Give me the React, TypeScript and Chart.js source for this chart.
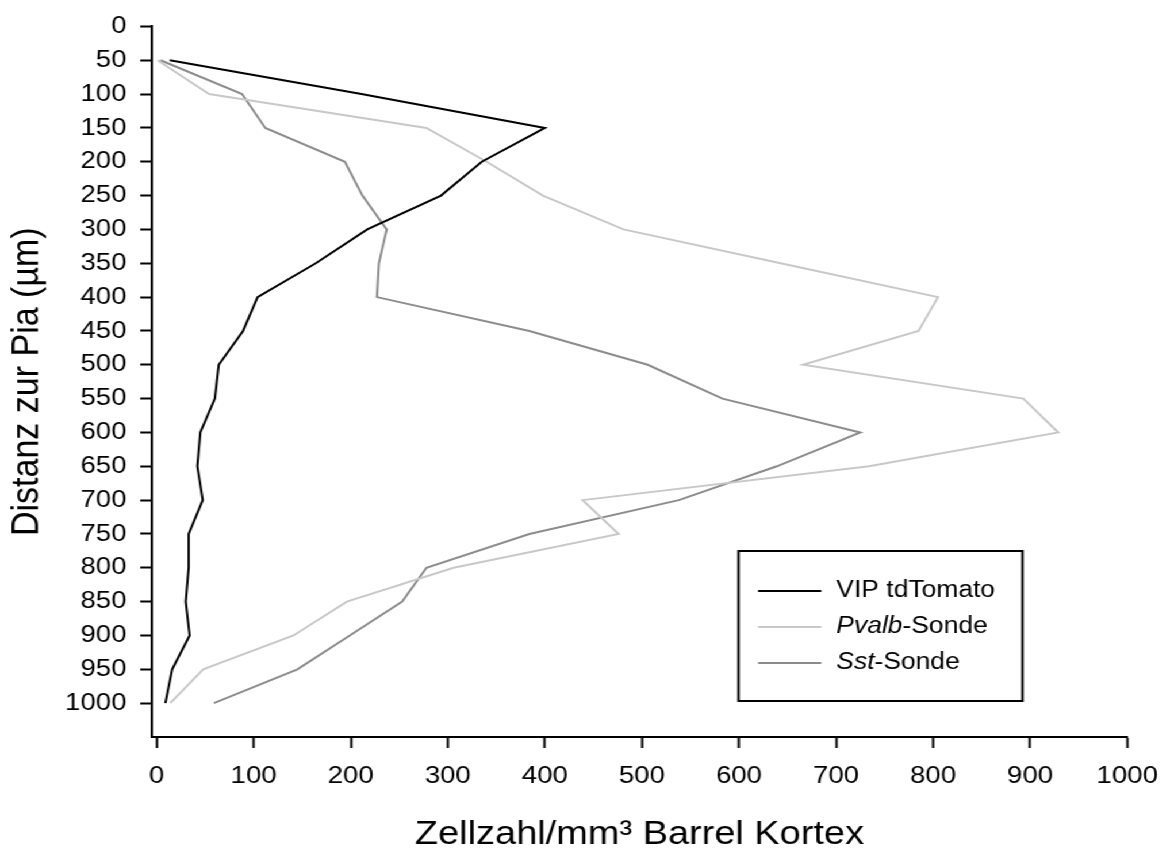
import React, { useEffect, useRef } from 'react';
import { Chart, registerables } from 'chart.js';

Chart.register(...registerables);

// ---- Data ----
const depths = [50, 100, 150, 200, 250, 300, 350, 400, 450, 500, 550, 600, 650, 700, 750, 800, 850, 900, 950, 1000];
const vipValues = [13.5, 211, 400, 335, 293, 217, 164, 104, 89, 64, 60, 45, 42, 47.5, 33, 33, 30, 34, 16, 9];
const pvalbValues = [1, 54, 278, 340, 398, 481, 643, 805, 785, 666, 893, 929, 734, 439, 476, 306, 196, 141, 48, 14];
const sstValues = [4, 88, 112, 194, 212, 237, 229, 227, 384, 506, 583, 725, 639, 538, 384, 278, 253, 199, 145, 59];

const seriesLabels = ['VIP tdTomato', 'Pvalb-Sonde', 'Sst-Sonde'];
const legendItalicPart = ['', 'Pvalb', 'Sst'];
const legendPlainPart = ['VIP tdTomato', '-Sonde', '-Sonde'];
const seriesColors = ['#000000', '#c8c8c8', '#8c8c8c'];

const xTickValues = [0, 100, 200, 300, 400, 500, 600, 700, 800, 900, 1000];
const yTickValues = [0, 50, 100, 150, 200, 250, 300, 350, 400, 450, 500, 550, 600, 650, 700, 750, 800, 850, 900, 950, 1000];

const xTitle = 'Zellzahl/mm³ Barrel Kortex';
const yTitle = 'Distanz zur Pia (µm)';

// ---- Layout ----
const PAGE_W = 1174;
const PAGE_H = 857;
const CANVAS_W = 1021;
const STRETCH = PAGE_W / CANVAS_W;
const FONT = '"Liberation Sans", Arial, Helvetica, sans-serif';

const toPoints = (vals: number[]) => vals.map((v, i) => ({ x: v, y: depths[i] }));

const legendPlugin = {
  id: 'mixedLegend',
  afterDraw(chart: any) {
    const { ctx, chartArea } = chart;
    const left = chartArea.right - 338;
    const top = chartArea.bottom - 186;
    const w = 247;
    const h = 150;
    ctx.save();
    ctx.fillStyle = '#ffffff';
    ctx.fillRect(left, top, w, h);
    ctx.strokeStyle = '#000000';
    ctx.lineWidth = 2;
    ctx.strokeRect(left, top, w, h);
    const rows = [40, 76, 112];
    chart.data.datasets.forEach((ds: any, i: number) => {
      const y = top + rows[i];
      ctx.strokeStyle = ds.borderColor;
      ctx.lineWidth = 2;
      ctx.beginPath();
      ctx.moveTo(left + 17, y);
      ctx.lineTo(left + 72, y);
      ctx.stroke();
      ctx.fillStyle = '#000000';
      ctx.textBaseline = 'middle';
      ctx.textAlign = 'left';
      let x = left + 85;
      if (legendItalicPart[i]) {
        ctx.font = `italic 23px ${FONT}`;
        ctx.fillText(legendItalicPart[i], x, y);
        x += ctx.measureText(legendItalicPart[i]).width;
      }
      ctx.font = `23px ${FONT}`;
      ctx.fillText(legendPlainPart[i], x, y);
    });
    ctx.restore();
  },
};

export default function App() {
  const ref = useRef<HTMLCanvasElement | null>(null);

  useEffect(() => {
    if (!ref.current) return;
    Chart.defaults.font.family = FONT;
    const chart = new Chart(ref.current, {
      type: 'scatter',
      data: {
        datasets: [vipValues, pvalbValues, sstValues].map((vals, i) => ({
          label: seriesLabels[i],
          data: toPoints(vals),
          showLine: true,
          borderColor: seriesColors[i],
          backgroundColor: seriesColors[i],
          borderWidth: 2,
          pointRadius: 0,
          pointHoverRadius: 0,
          tension: 0,
        })),
      },
      options: {
        animation: false,
        responsive: true,
        maintainAspectRatio: false,
        devicePixelRatio: 1,
        layout: { padding: { top: 23, right: 30, left: 0, bottom: 0 } },
        plugins: {
          legend: { display: false },
          tooltip: { enabled: false },
        },
        scales: {
          x: {
            type: 'linear',
            min: -5,
            max: 1000,
            afterBuildTicks: (s: any) => {
              s.ticks = xTickValues.map((v) => ({ value: v }));
            },
            afterFit: (s: any) => {
              s.height = 120;
            },
            ticks: {
              autoSkip: false,
              maxRotation: 0,
              padding: 14,
              color: '#000000',
              font: { size: 24 },
              callback: (v: any) => String(v),
            },
            grid: {
              drawOnChartArea: false,
              drawTicks: true,
              tickLength: 11,
              tickWidth: 2,
              tickColor: '#000000',
            },
            border: { display: true, color: '#000000', width: 2 },
            title: {
              display: true,
              text: xTitle,
              color: '#000000',
              font: { size: 33 },
              padding: { top: 0, bottom: 2 },
            },
          },
          y: {
            type: 'linear',
            reverse: true,
            min: 0,
            max: 1050,
            afterBuildTicks: (s: any) => {
              s.ticks = yTickValues.map((v) => ({ value: v }));
            },
            afterFit: (s: any) => {
              s.width = 132;
            },
            ticks: {
              autoSkip: false,
              padding: 12,
              color: '#000000',
              font: { size: 24 },
              callback: (v: any) => String(v),
            },
            grid: {
              drawOnChartArea: false,
              drawTicks: true,
              tickLength: 10,
              tickWidth: 2,
              tickColor: '#000000',
            },
            border: { display: true, color: '#000000', width: 2 },
            title: {
              display: true,
              text: yTitle,
              color: '#000000',
              font: { size: 34 },
              padding: { top: 3, bottom: 0 },
            },
          },
        },
      },
      plugins: [legendPlugin],
    } as any);
    return () => chart.destroy();
  }, []);

  return (
    <div
      style={{
        position: 'absolute',
        left: 0,
        top: 0,
        width: CANVAS_W,
        height: PAGE_H,
        transform: `scaleX(${STRETCH})`,
        transformOrigin: '0 0',
        background: '#ffffff',
      }}
    >
      <canvas ref={ref} />
    </div>
  );
}
